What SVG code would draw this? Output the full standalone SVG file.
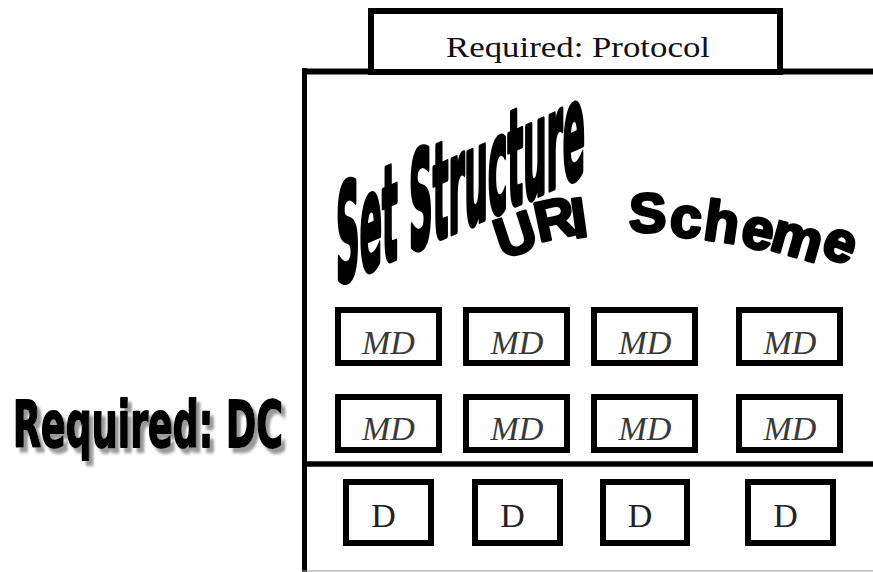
<svg xmlns="http://www.w3.org/2000/svg" width="873" height="572" viewBox="0 0 873 572">
<style>
.box{fill:#fff;stroke:#000;stroke-width:6}
.frame{stroke:#000;fill:none}
.serif{font-family:"Liberation Serif","Times New Roman",serif;fill:#111}
.md{font-style:italic;font-size:34px;text-anchor:middle;fill:#3a3a3a}
.d{font-size:34px;text-anchor:middle;fill:#222}
.impact{font-family:"Liberation Sans Narrow","DejaVu Sans Condensed","Liberation Sans",sans-serif;font-weight:bold;fill:#000;stroke:#000;stroke-linejoin:round}
.black{font-family:"Liberation Sans",Arial,sans-serif;font-weight:bold;fill:#000;stroke:#000;stroke-width:3;stroke-linejoin:round}
</style>
<defs>
<filter id="sh" x="-5%" y="-20%" width="115%" height="160%"><feDropShadow dx="4" dy="4" stdDeviation="1.3" flood-color="#9a9a9a" flood-opacity="1"/></filter>
</defs>
<rect width="873" height="572" fill="#fff"/>

<g id="frame">
<line class="frame" x1="304.5" y1="68" x2="304.5" y2="572" stroke-width="5"/>
<line class="frame" x1="302" y1="71.5" x2="873" y2="71.5" stroke-width="6"/>
<line class="frame" x1="302" y1="464" x2="873" y2="464" stroke-width="5.5"/>
<line x1="302" y1="571" x2="873" y2="571" stroke="#999" stroke-width="1"/>
</g>

<g id="protocol">
<rect class="box" x="371" y="11" width="409" height="61"/>
<text class="serif" x="446" y="57" font-size="30" textLength="264" lengthAdjust="spacingAndGlyphs">Required: Protocol</text>
</g>

<g id="set-structure">
<text class="impact" stroke-width="2" font-size="48" transform="translate(336,285) skewY(-24) scale(1,2.8)" x="0" y="0" textLength="249" lengthAdjust="spacingAndGlyphs">Set Structure</text>
</g>

<g id="uri-scheme">
<text class="black" font-size="56"><tspan x="502 539 574 600 629" y="259 242 238 236 232" rotate="-18 -12 -8 0 0">URI S</tspan><tspan font-size="57" x="669 702 739 768 819" y="236 239 245 249 254" rotate="4 8 12 16 22">cheme</tspan></text>
</g>

<g id="md-1-1"><rect class="box" x="338" y="310" width="101" height="53"/><text class="serif md" x="388.5" y="354">MD</text></g>
<g id="md-1-2"><rect class="box" x="466" y="310" width="101" height="53"/><text class="serif md" x="517" y="354">MD</text></g>
<g id="md-1-3"><rect class="box" x="594" y="310" width="101" height="53"/><text class="serif md" x="645" y="354">MD</text></g>
<g id="md-1-4"><rect class="box" x="739" y="310" width="101" height="53"/><text class="serif md" x="790" y="354">MD</text></g>

<g id="md-2-1"><rect class="box" x="338" y="397" width="101" height="53"/><text class="serif md" x="388.5" y="440">MD</text></g>
<g id="md-2-2"><rect class="box" x="466" y="397" width="101" height="53"/><text class="serif md" x="517" y="440">MD</text></g>
<g id="md-2-3"><rect class="box" x="594" y="397" width="101" height="53"/><text class="serif md" x="645" y="440">MD</text></g>
<g id="md-2-4"><rect class="box" x="739" y="397" width="101" height="53"/><text class="serif md" x="790" y="440">MD</text></g>

<g id="d-1"><rect class="box" x="346" y="482" width="85" height="61"/><text class="serif d" x="383.5" y="527">D</text></g>
<g id="d-2"><rect class="box" x="475" y="482" width="85" height="61"/><text class="serif d" x="512.5" y="527">D</text></g>
<g id="d-3"><rect class="box" x="603" y="482" width="84" height="61"/><text class="serif d" x="640" y="527">D</text></g>
<g id="d-4"><rect class="box" x="748" y="482" width="85" height="61"/><text class="serif d" x="785.5" y="527">D</text></g>

<g id="required-dc">
<text class="impact" stroke-width="1.6" font-size="51" transform="translate(13,447) scale(1,1.26)" x="0" y="0" textLength="270" lengthAdjust="spacingAndGlyphs" filter="url(#sh)">Required: DC</text>
</g>

<g id="connectors"/>
</svg>
